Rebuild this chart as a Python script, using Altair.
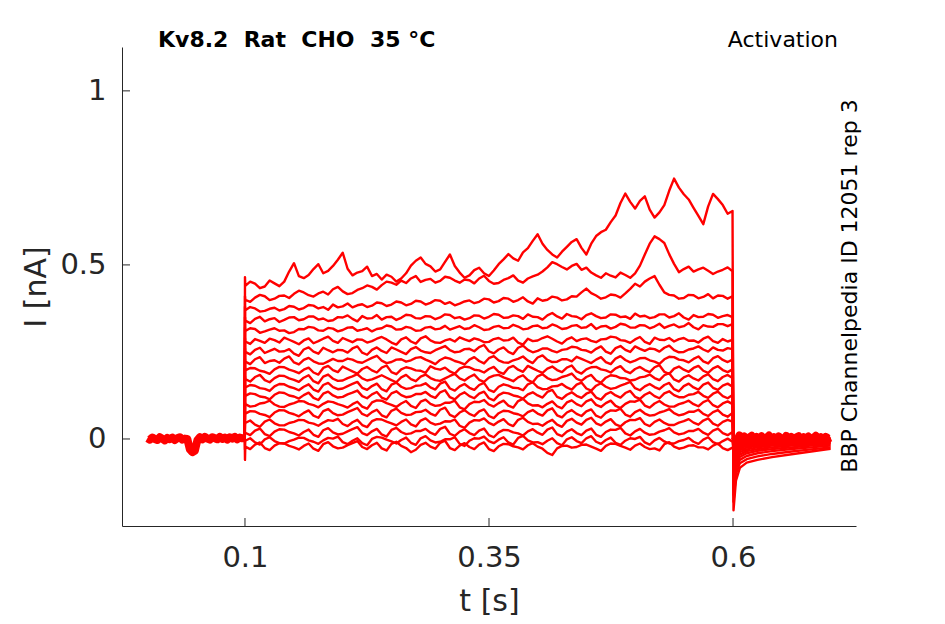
import altair as alt
import pandas as pd
import numpy as np

RED = "#ff0000"
INK = "#262626"
FONT = "DejaVu Sans"

# ---------------- time grids (s) ----------------
pre_t = np.linspace(0.0, 0.0998, 40)
pulse_t = np.linspace(0.1003, 0.5995, 101)
tail_t = [0.6005, 0.603, 0.607, 0.614, 0.625, 0.64, 0.66, 0.68, 0.70]
post_t = np.linspace(0.6015, 0.70, 40)

# ---------------- holding baseline before / after the step (nA) ----------------
pre_baseline = [0.002, -0.002, 0.004, 0.000, -0.003, 0.005, 0.001, -0.004, 0.003, -0.001,
                0.004, -0.003, 0.002, 0.005, -0.002, 0.001, 0.000, -0.030, -0.038, -0.034,
                -0.004, 0.005, -0.001, 0.006, 0.001, -0.002, 0.005, 0.002, -0.001, 0.006,
                0.000, 0.004, -0.002, 0.005, 0.001, 0.006, -0.001, 0.004, 0.002, 0.003]
post_baseline = [0.008, -0.006, 0.010, -0.003, 0.007, -0.008, 0.004, 0.009, -0.005, 0.006,
                 -0.002, 0.008, -0.006, 0.003, 0.010, -0.004, 0.005, -0.007, 0.007, 0.001,
                 -0.005, 0.009, -0.003, 0.006, -0.006, 0.004, 0.008, -0.004, 0.005, -0.002,
                 0.007, -0.006, 0.003, 0.009, -0.003, 0.005, -0.005, 0.006, 0.001, 0.004]

# capacitive value at step onset (t = 0.1 s), one per sweep
step_onset = [0.465, 0.41, 0.38, 0.35, 0.32, 0.29, 0.26, 0.23, 0.205,
              0.18, 0.155, 0.13, 0.105, 0.08, 0.05, 0.02, -0.03, -0.06]

# ---------------- current during the step, one list per sweep (nA) ----------------
trace_01 = [0.440, 0.452, 0.446, 0.433, 0.438, 0.455, 0.447, 0.439, 0.452, 0.481, 0.505, 0.468, 0.462, 0.471, 0.488, 0.502, 0.476, 0.483, 0.497, 0.515,
            0.535, 0.489, 0.470, 0.478, 0.482, 0.495, 0.468, 0.474, 0.458, 0.472, 0.466, 0.452, 0.461, 0.476, 0.498, 0.512, 0.521, 0.503, 0.496, 0.481,
            0.487, 0.509, 0.530, 0.497, 0.478, 0.463, 0.470, 0.485, 0.492, 0.476, 0.468, 0.484, 0.502, 0.516, 0.531, 0.519, 0.512, 0.536, 0.548, 0.569,
            0.588, 0.561, 0.543, 0.530, 0.521, 0.538, 0.552, 0.566, 0.574, 0.549, 0.530, 0.561, 0.583, 0.594, 0.601, 0.623, 0.642, 0.678, 0.705, 0.681,
            0.662, 0.684, 0.697, 0.659, 0.636, 0.651, 0.672, 0.713, 0.748, 0.722, 0.703, 0.688, 0.664, 0.641, 0.617, 0.668, 0.704, 0.689, 0.672, 0.647, 0.655]
trace_02 = [0.400, 0.394, 0.406, 0.414, 0.410, 0.399, 0.403, 0.411, 0.412, 0.405, 0.417, 0.426, 0.421, 0.413, 0.409, 0.418, 0.423, 0.415, 0.430, 0.437,
            0.424, 0.416, 0.419, 0.428, 0.433, 0.441, 0.437, 0.429, 0.442, 0.452, 0.449, 0.443, 0.455, 0.448, 0.461, 0.468, 0.451, 0.457, 0.460, 0.449,
            0.454, 0.466, 0.463, 0.455, 0.449, 0.458, 0.456, 0.447, 0.461, 0.469, 0.454, 0.446, 0.448, 0.457, 0.462, 0.470, 0.455, 0.449, 0.461, 0.467,
            0.472, 0.481, 0.493, 0.508, 0.502, 0.494, 0.487, 0.497, 0.503, 0.486, 0.492, 0.478, 0.470, 0.463, 0.476, 0.469, 0.464, 0.478, 0.471, 0.463,
            0.476, 0.498, 0.530, 0.561, 0.582, 0.574, 0.563, 0.531, 0.503, 0.479, 0.488, 0.495, 0.481, 0.487, 0.492, 0.483, 0.474, 0.481, 0.486, 0.493, 0.482]
trace_03 = [0.370, 0.379, 0.375, 0.366, 0.368, 0.374, 0.377, 0.369, 0.373, 0.382, 0.380, 0.372, 0.376, 0.385, 0.383, 0.375, 0.379, 0.371, 0.386, 0.378,
            0.381, 0.389, 0.378, 0.384, 0.387, 0.379, 0.383, 0.392, 0.390, 0.382, 0.386, 0.395, 0.392, 0.384, 0.388, 0.397, 0.395, 0.386, 0.391, 0.399,
            0.397, 0.388, 0.393, 0.384, 0.389, 0.395, 0.398, 0.390, 0.394, 0.403, 0.401, 0.392, 0.396, 0.405, 0.403, 0.394, 0.399, 0.407, 0.395, 0.389,
            0.404, 0.397, 0.400, 0.409, 0.406, 0.398, 0.401, 0.410, 0.409, 0.421, 0.432, 0.419, 0.412, 0.403, 0.407, 0.415, 0.413, 0.406, 0.418, 0.431,
            0.446, 0.438, 0.452, 0.461, 0.468, 0.443, 0.421, 0.414, 0.412, 0.403, 0.405, 0.414, 0.413, 0.404, 0.408, 0.416, 0.404, 0.412, 0.411, 0.403, 0.410]
trace_04 = [0.340, 0.333, 0.345, 0.351, 0.338, 0.344, 0.347, 0.336, 0.342, 0.349, 0.350, 0.341, 0.344, 0.352, 0.352, 0.343, 0.346, 0.339, 0.341, 0.350,
            0.349, 0.355, 0.345, 0.338, 0.353, 0.346, 0.347, 0.356, 0.343, 0.350, 0.351, 0.342, 0.348, 0.357, 0.355, 0.347, 0.346, 0.353, 0.352, 0.344,
            0.349, 0.358, 0.356, 0.347, 0.350, 0.343, 0.347, 0.355, 0.354, 0.346, 0.351, 0.359, 0.357, 0.348, 0.349, 0.355, 0.353, 0.345, 0.358, 0.351,
            0.350, 0.343, 0.355, 0.362, 0.352, 0.346, 0.359, 0.353, 0.351, 0.344, 0.356, 0.361, 0.353, 0.347, 0.349, 0.358, 0.357, 0.350, 0.352, 0.345,
            0.360, 0.352, 0.354, 0.347, 0.350, 0.358, 0.358, 0.349, 0.353, 0.361, 0.349, 0.343, 0.356, 0.350, 0.351, 0.359, 0.357, 0.348, 0.353, 0.356, 0.350]
trace_05 = [0.310, 0.318, 0.316, 0.305, 0.309, 0.314, 0.318, 0.311, 0.312, 0.304, 0.307, 0.316, 0.315, 0.322, 0.320, 0.312, 0.311, 0.319, 0.317, 0.309,
            0.313, 0.320, 0.321, 0.311, 0.314, 0.318, 0.309, 0.316, 0.318, 0.326, 0.323, 0.314, 0.315, 0.322, 0.319, 0.311, 0.312, 0.320, 0.322, 0.315,
            0.317, 0.325, 0.314, 0.319, 0.324, 0.316, 0.318, 0.327, 0.321, 0.313, 0.315, 0.322, 0.325, 0.318, 0.319, 0.328, 0.323, 0.315, 0.317, 0.324,
            0.326, 0.318, 0.320, 0.329, 0.324, 0.316, 0.318, 0.325, 0.327, 0.319, 0.321, 0.330, 0.316, 0.323, 0.325, 0.317, 0.322, 0.331, 0.328, 0.320,
            0.320, 0.327, 0.326, 0.318, 0.323, 0.331, 0.319, 0.325, 0.329, 0.321, 0.324, 0.333, 0.321, 0.315, 0.327, 0.323, 0.322, 0.330, 0.330, 0.324, 0.330]
trace_06 = [0.280, 0.273, 0.287, 0.282, 0.276, 0.288, 0.284, 0.277, 0.291, 0.285, 0.279, 0.272, 0.283, 0.289, 0.275, 0.281, 0.288, 0.294, 0.282, 0.276,
            0.290, 0.284, 0.278, 0.286, 0.285, 0.277, 0.281, 0.288, 0.293, 0.286, 0.277, 0.271, 0.286, 0.292, 0.280, 0.274, 0.289, 0.295, 0.283, 0.277,
            0.276, 0.283, 0.287, 0.280, 0.292, 0.286, 0.281, 0.289, 0.285, 0.278, 0.279, 0.287, 0.290, 0.283, 0.284, 0.291, 0.277, 0.271, 0.288, 0.281,
            0.283, 0.290, 0.295, 0.288, 0.280, 0.274, 0.286, 0.292, 0.281, 0.287, 0.289, 0.282, 0.278, 0.286, 0.287, 0.294, 0.292, 0.284, 0.282, 0.276,
            0.286, 0.293, 0.279, 0.273, 0.291, 0.285, 0.284, 0.290, 0.280, 0.287, 0.290, 0.282, 0.283, 0.277, 0.288, 0.294, 0.281, 0.276, 0.287, 0.280, 0.285]
trace_07 = [0.250, 0.243, 0.256, 0.262, 0.247, 0.253, 0.259, 0.251, 0.252, 0.258, 0.245, 0.239, 0.257, 0.263, 0.251, 0.245, 0.262, 0.255, 0.249, 0.256,
            0.255, 0.248, 0.260, 0.266, 0.248, 0.242, 0.256, 0.263, 0.253, 0.247, 0.263, 0.257, 0.250, 0.244, 0.258, 0.264, 0.254, 0.249, 0.247, 0.255,
            0.261, 0.267, 0.255, 0.249, 0.251, 0.258, 0.259, 0.252, 0.264, 0.270, 0.252, 0.246, 0.257, 0.263, 0.250, 0.244, 0.262, 0.268, 0.256, 0.249,
            0.253, 0.260, 0.260, 0.253, 0.249, 0.256, 0.258, 0.265, 0.263, 0.256, 0.254, 0.248, 0.259, 0.266, 0.251, 0.245, 0.261, 0.267, 0.256, 0.250,
            0.266, 0.259, 0.253, 0.260, 0.258, 0.251, 0.262, 0.268, 0.255, 0.249, 0.250, 0.257, 0.260, 0.266, 0.257, 0.251, 0.263, 0.256, 0.254, 0.261, 0.258]
trace_08 = [0.222, 0.215, 0.229, 0.235, 0.218, 0.224, 0.226, 0.219, 0.231, 0.237, 0.220, 0.214, 0.227, 0.233, 0.223, 0.217, 0.216, 0.223, 0.230, 0.224,
            0.224, 0.231, 0.228, 0.221, 0.219, 0.226, 0.233, 0.239, 0.225, 0.218, 0.221, 0.228, 0.229, 0.222, 0.226, 0.233, 0.235, 0.228, 0.222, 0.215,
            0.227, 0.234, 0.231, 0.224, 0.220, 0.214, 0.228, 0.235, 0.224, 0.217, 0.232, 0.238, 0.226, 0.220, 0.219, 0.226, 0.230, 0.237, 0.225, 0.218,
            0.234, 0.240, 0.227, 0.221, 0.222, 0.229, 0.229, 0.223, 0.236, 0.230, 0.224, 0.218, 0.228, 0.235, 0.221, 0.215, 0.231, 0.238, 0.227, 0.220,
            0.225, 0.232, 0.233, 0.226, 0.222, 0.216, 0.229, 0.236, 0.235, 0.228, 0.226, 0.220, 0.230, 0.237, 0.223, 0.217, 0.232, 0.238, 0.227, 0.221, 0.228]
trace_09 = [0.197, 0.204, 0.203, 0.196, 0.193, 0.187, 0.200, 0.207, 0.206, 0.199, 0.195, 0.189, 0.199, 0.205, 0.191, 0.185, 0.204, 0.210, 0.198, 0.192,
            0.208, 0.201, 0.194, 0.188, 0.201, 0.207, 0.197, 0.191, 0.205, 0.211, 0.192, 0.186, 0.200, 0.206, 0.203, 0.197, 0.196, 0.190, 0.209, 0.202,
            0.199, 0.205, 0.194, 0.188, 0.202, 0.208, 0.206, 0.199, 0.197, 0.191, 0.201, 0.207, 0.193, 0.187, 0.204, 0.210, 0.199, 0.193, 0.210, 0.203,
            0.196, 0.190, 0.202, 0.208, 0.198, 0.192, 0.205, 0.211, 0.194, 0.188, 0.200, 0.206, 0.207, 0.200, 0.197, 0.191, 0.203, 0.209, 0.195, 0.189,
            0.201, 0.207, 0.198, 0.192, 0.206, 0.212, 0.193, 0.187, 0.202, 0.208, 0.199, 0.193, 0.204, 0.210, 0.196, 0.190, 0.203, 0.209, 0.198, 0.192, 0.200]
trace_10 = [0.172, 0.165, 0.178, 0.184, 0.169, 0.163, 0.175, 0.182, 0.181, 0.174, 0.170, 0.164, 0.176, 0.183, 0.166, 0.160, 0.179, 0.185, 0.173, 0.167,
            0.168, 0.175, 0.180, 0.186, 0.174, 0.168, 0.171, 0.177, 0.183, 0.176, 0.169, 0.163, 0.177, 0.184, 0.172, 0.166, 0.179, 0.185, 0.175, 0.169,
            0.167, 0.174, 0.181, 0.187, 0.174, 0.168, 0.178, 0.185, 0.170, 0.164, 0.176, 0.182, 0.184, 0.177, 0.172, 0.166, 0.177, 0.183, 0.169, 0.163,
            0.180, 0.186, 0.175, 0.169, 0.171, 0.178, 0.182, 0.188, 0.173, 0.167, 0.178, 0.184, 0.168, 0.162, 0.176, 0.183, 0.181, 0.175, 0.174, 0.168,
            0.170, 0.177, 0.179, 0.185, 0.175, 0.169, 0.183, 0.189, 0.171, 0.165, 0.177, 0.183, 0.174, 0.168, 0.180, 0.186, 0.172, 0.166, 0.178, 0.184, 0.175]
trace_11 = [0.148, 0.155, 0.153, 0.146, 0.144, 0.138, 0.151, 0.158, 0.157, 0.150, 0.146, 0.140, 0.150, 0.157, 0.142, 0.136, 0.155, 0.161, 0.149, 0.143,
            0.145, 0.152, 0.158, 0.164, 0.147, 0.141, 0.152, 0.159, 0.143, 0.137, 0.156, 0.162, 0.150, 0.144, 0.146, 0.153, 0.154, 0.160, 0.148, 0.142,
            0.159, 0.165, 0.145, 0.139, 0.151, 0.158, 0.147, 0.141, 0.155, 0.161, 0.141, 0.135, 0.150, 0.157, 0.153, 0.147, 0.146, 0.140, 0.157, 0.163,
            0.149, 0.143, 0.144, 0.151, 0.152, 0.158, 0.148, 0.142, 0.156, 0.162, 0.145, 0.139, 0.153, 0.160, 0.150, 0.144, 0.147, 0.153, 0.158, 0.164,
            0.146, 0.140, 0.151, 0.158, 0.149, 0.143, 0.155, 0.161, 0.143, 0.137, 0.152, 0.159, 0.148, 0.142, 0.156, 0.162, 0.147, 0.141, 0.153, 0.159, 0.150]
trace_12 = [0.124, 0.131, 0.129, 0.122, 0.120, 0.114, 0.127, 0.134, 0.132, 0.125, 0.122, 0.116, 0.126, 0.133, 0.118, 0.112, 0.130, 0.136, 0.125, 0.119,
            0.121, 0.128, 0.133, 0.139, 0.123, 0.117, 0.128, 0.135, 0.119, 0.113, 0.131, 0.137, 0.126, 0.120, 0.122, 0.129, 0.129, 0.135, 0.124, 0.118,
            0.134, 0.140, 0.120, 0.114, 0.127, 0.134, 0.123, 0.117, 0.130, 0.136, 0.117, 0.111, 0.126, 0.133, 0.131, 0.125, 0.122, 0.116, 0.128, 0.134,
            0.125, 0.119, 0.135, 0.141, 0.121, 0.115, 0.127, 0.134, 0.124, 0.118, 0.130, 0.136, 0.119, 0.113, 0.128, 0.135, 0.125, 0.119, 0.132, 0.138,
            0.121, 0.115, 0.127, 0.134, 0.123, 0.117, 0.131, 0.137, 0.126, 0.120, 0.120, 0.127, 0.129, 0.135, 0.124, 0.118, 0.130, 0.136, 0.123, 0.117, 0.126]
trace_13 = [0.100, 0.093, 0.095, 0.102, 0.104, 0.110, 0.099, 0.093, 0.092, 0.099, 0.103, 0.109, 0.108, 0.101, 0.097, 0.091, 0.101, 0.108, 0.106, 0.100,
            0.096, 0.090, 0.100, 0.107, 0.093, 0.087, 0.105, 0.111, 0.110, 0.103, 0.098, 0.092, 0.102, 0.109, 0.095, 0.089, 0.107, 0.113, 0.101, 0.095,
            0.097, 0.104, 0.104, 0.110, 0.091, 0.085, 0.100, 0.107, 0.106, 0.112, 0.099, 0.093, 0.103, 0.110, 0.096, 0.090, 0.109, 0.115, 0.102, 0.096,
            0.097, 0.091, 0.101, 0.108, 0.094, 0.088, 0.105, 0.111, 0.100, 0.094, 0.108, 0.114, 0.098, 0.092, 0.103, 0.110, 0.095, 0.089, 0.101, 0.108,
            0.107, 0.113, 0.096, 0.090, 0.102, 0.109, 0.099, 0.093, 0.093, 0.100, 0.104, 0.110, 0.100, 0.094, 0.106, 0.112, 0.097, 0.091, 0.102, 0.108, 0.100]
trace_14 = [0.073, 0.080, 0.079, 0.072, 0.069, 0.063, 0.076, 0.083, 0.082, 0.075, 0.071, 0.065, 0.075, 0.082, 0.067, 0.061, 0.080, 0.086, 0.074, 0.068,
            0.070, 0.077, 0.083, 0.089, 0.072, 0.066, 0.077, 0.084, 0.068, 0.062, 0.081, 0.087, 0.075, 0.069, 0.070, 0.077, 0.078, 0.084, 0.073, 0.067,
            0.084, 0.090, 0.069, 0.063, 0.076, 0.083, 0.072, 0.066, 0.079, 0.085, 0.066, 0.060, 0.074, 0.081, 0.080, 0.074, 0.071, 0.065, 0.077, 0.083,
            0.073, 0.067, 0.082, 0.088, 0.068, 0.062, 0.076, 0.083, 0.072, 0.066, 0.079, 0.085, 0.067, 0.061, 0.075, 0.082, 0.081, 0.087, 0.070, 0.064,
            0.077, 0.084, 0.073, 0.067, 0.069, 0.076, 0.080, 0.086, 0.074, 0.068, 0.071, 0.078, 0.078, 0.084, 0.072, 0.066, 0.077, 0.083, 0.070, 0.064, 0.075]
trace_15 = [0.046, 0.053, 0.041, 0.035, 0.050, 0.056, 0.045, 0.039, 0.039, 0.046, 0.049, 0.055, 0.054, 0.047, 0.044, 0.038, 0.047, 0.054, 0.052, 0.058,
            0.043, 0.037, 0.048, 0.055, 0.040, 0.034, 0.051, 0.057, 0.056, 0.050, 0.045, 0.039, 0.049, 0.056, 0.042, 0.036, 0.053, 0.059, 0.047, 0.041,
            0.044, 0.051, 0.050, 0.056, 0.038, 0.032, 0.047, 0.054, 0.053, 0.059, 0.046, 0.040, 0.050, 0.057, 0.043, 0.037, 0.055, 0.061, 0.049, 0.043,
            0.044, 0.038, 0.048, 0.055, 0.041, 0.035, 0.052, 0.058, 0.047, 0.041, 0.055, 0.061, 0.045, 0.039, 0.050, 0.057, 0.042, 0.036, 0.048, 0.055,
            0.054, 0.060, 0.043, 0.037, 0.049, 0.056, 0.046, 0.040, 0.040, 0.047, 0.051, 0.057, 0.047, 0.041, 0.053, 0.059, 0.044, 0.038, 0.049, 0.055, 0.050]
trace_16 = [0.018, 0.011, 0.024, 0.030, 0.014, 0.008, 0.021, 0.028, 0.027, 0.020, 0.016, 0.010, 0.020, 0.027, 0.012, 0.006, 0.025, 0.031, 0.019, 0.013,
            0.015, 0.022, 0.028, 0.034, 0.017, 0.011, 0.022, 0.029, 0.013, 0.007, 0.026, 0.032, 0.020, 0.014, 0.016, 0.023, 0.023, 0.029, 0.018, 0.012,
            0.029, 0.035, 0.015, 0.009, 0.021, 0.028, 0.017, 0.011, 0.024, 0.030, 0.011, 0.005, 0.019, 0.026, 0.025, 0.019, 0.016, 0.010, 0.022, 0.028,
            0.018, 0.012, 0.027, 0.033, 0.014, 0.008, 0.021, 0.028, 0.017, 0.011, 0.024, 0.030, 0.012, 0.006, 0.020, 0.027, 0.026, 0.032, 0.016, 0.010,
            0.022, 0.029, 0.018, 0.012, 0.014, 0.021, 0.025, 0.031, 0.019, 0.013, 0.016, 0.023, 0.023, 0.029, 0.018, 0.012, 0.024, 0.030, 0.017, 0.011, 0.020]
trace_17 = [-0.005, 0.002, -0.010, -0.016, -0.001, 0.005, -0.006, -0.012, -0.013, -0.006, -0.002, 0.004, 0.003, -0.004, -0.008, -0.014, -0.004, 0.003, 0.001, 0.007,
            -0.009, -0.015, -0.005, 0.002, -0.012, -0.018, 0.000, 0.006, 0.004, -0.002, -0.007, -0.013, -0.003, 0.004, -0.011, -0.017, 0.002, 0.008, -0.004, -0.010,
            -0.008, -0.001, -0.001, 0.005, -0.014, -0.020, -0.005, 0.002, 0.001, 0.007, -0.006, -0.012, -0.002, 0.005, -0.010, -0.016, 0.003, 0.009, -0.004, -0.010,
            -0.009, -0.015, -0.005, 0.002, -0.012, -0.018, -0.001, 0.005, -0.006, -0.012, 0.002, 0.008, -0.008, -0.014, -0.003, 0.004, -0.011, -0.017, -0.005, 0.002,
            0.000, 0.006, -0.010, -0.016, -0.004, 0.003, -0.007, -0.013, -0.013, -0.006, -0.003, 0.003, -0.008, -0.014, -0.002, 0.005, -0.009, -0.015, -0.006, 0.001, -0.008]
trace_18 = [-0.022, -0.029, -0.016, -0.010, -0.026, -0.032, -0.019, -0.012, -0.013, -0.020, -0.024, -0.030, -0.020, -0.013, -0.028, -0.034, -0.015, -0.009, -0.021, -0.027,
            -0.025, -0.018, -0.012, -0.006, -0.023, -0.029, -0.018, -0.011, -0.027, -0.033, -0.014, -0.008, -0.020, -0.026, -0.038, -0.031, -0.017, -0.011, -0.022, -0.028,
            -0.011, -0.005, -0.026, -0.032, -0.019, -0.012, -0.023, -0.029, -0.016, -0.010, -0.029, -0.035, -0.021, -0.014, -0.015, -0.021, -0.024, -0.030, -0.018, -0.012,
            -0.022, -0.028, -0.040, -0.046, -0.027, -0.020, -0.019, -0.025, -0.023, -0.017, -0.016, -0.022, -0.028, -0.034, -0.020, -0.013, -0.014, -0.020, -0.025, -0.031,
            -0.019, -0.013, -0.023, -0.029, -0.027, -0.033, -0.015, -0.009, -0.022, -0.028, -0.025, -0.019, -0.018, -0.024, -0.024, -0.030, -0.019, -0.013, -0.026, -0.032, -0.025]

# ---------------- tail current after the step (nA), one list per sweep ----------------
tail_01 = [-0.205, -0.120, -0.083, -0.068, -0.060, -0.052, -0.044, -0.036, -0.028]
tail_02 = [-0.180, -0.100, -0.070, -0.058, -0.050, -0.043, -0.036, -0.030, -0.024]
tail_03 = [-0.160, -0.085, -0.060, -0.049, -0.041, -0.035, -0.029, -0.024, -0.019]
tail_04 = [-0.145, -0.074, -0.052, -0.041, -0.034, -0.029, -0.024, -0.019, -0.015]
tail_05 = [-0.130, -0.064, -0.045, -0.035, -0.029, -0.024, -0.019, -0.016, -0.012]
tail_06 = [-0.118, -0.055, -0.038, -0.030, -0.024, -0.019, -0.016, -0.013, -0.010]
tail_07 = [-0.105, -0.047, -0.032, -0.025, -0.020, -0.016, -0.013, -0.010, -0.008]
tail_08 = [-0.095, -0.040, -0.027, -0.020, -0.016, -0.013, -0.010, -0.008, -0.006]
tail_09 = [-0.085, -0.034, -0.022, -0.016, -0.013, -0.010, -0.008, -0.006, -0.005]
tail_10 = [-0.076, -0.029, -0.018, -0.013, -0.010, -0.008, -0.006, -0.005, -0.004]
tail_11 = [-0.068, -0.024, -0.015, -0.010, -0.008, -0.006, -0.005, -0.004, -0.003]
tail_12 = [-0.060, -0.020, -0.012, -0.008, -0.006, -0.005, -0.004, -0.003, -0.002]
tail_13 = [-0.053, -0.016, -0.009, -0.006, -0.004, -0.003, -0.003, -0.002, -0.001]
tail_14 = [-0.047, -0.013, -0.007, -0.004, -0.003, -0.002, -0.002, -0.001, -0.001]
tail_15 = [-0.041, -0.010, -0.005, -0.003, -0.002, -0.001, -0.001, -0.001, 0.000]
tail_16 = [-0.036, -0.008, -0.004, -0.002, -0.001, -0.001, 0.000, 0.000, 0.000]
tail_17 = [-0.031, -0.006, -0.003, -0.001, 0.000, 0.000, 0.000, 0.000, 0.000]
tail_18 = [-0.027, -0.004, -0.002, 0.000, 0.000, 0.000, 0.000, 0.000, 0.000]

x_ticks = [0.1, 0.35, 0.6]
y_ticks = [0, 0.5, 1]

traces = [trace_01, trace_02, trace_03, trace_04, trace_05, trace_06, trace_07, trace_08, trace_09,
          trace_10, trace_11, trace_12, trace_13, trace_14, trace_15, trace_16, trace_17, trace_18]
tails = [tail_01, tail_02, tail_03, tail_04, tail_05, tail_06, tail_07, tail_08, tail_09,
         tail_10, tail_11, tail_12, tail_13, tail_14, tail_15, tail_16, tail_17, tail_18]

rows = []
for i, (pul, tl, s) in enumerate(zip(traces, tails, step_onset)):
    assert len(pul) == 101 and len(tl) == 9, (i, len(pul))
    seq_t = [0.0998, 0.1] + list(pulse_t) + tail_t
    seq_v = [0.0, s] + pul + tl
    for j, (t, v) in enumerate(zip(seq_t, seq_v)):
        rows.append({"t": float(t), "I": v, "sweep": i, "ord": j})
sweeps = pd.DataFrame(rows)

assert len(pre_baseline) == 40 and len(post_baseline) == 40
pre_df = pd.DataFrame({"t": pre_t, "I": pre_baseline, "ord": range(40)})
post_df = pd.DataFrame({"t": post_t, "I": post_baseline, "ord": range(40)})

W, H = 734, 479

X = alt.X("t:Q",
          scale=alt.Scale(domain=[-0.026, 0.726], nice=False, zero=False),
          axis=alt.Axis(values=x_ticks, format=".2~f", title="t [s]", labelPadding=17,
                        titlePadding=14))
Y = alt.Y("I:Q",
          scale=alt.Scale(domain=[-0.25, 1.126], nice=False, zero=False),
          axis=alt.Axis(values=y_ticks, format=".2~f", title="I [nA]", labelPadding=16,
                        titlePadding=8))

pre_layer = alt.Chart(pre_df).mark_line(color=RED, strokeWidth=8, strokeJoin="round").encode(
    x=X, y=Y, order="ord:Q")
post_layer = alt.Chart(post_df).mark_line(color=RED, strokeWidth=8, strokeJoin="round").encode(
    x=X, y=Y, order="ord:Q")
sweep_layer = alt.Chart(sweeps).mark_line(color=RED, strokeWidth=2.4, strokeJoin="round").encode(
    x=X, y=Y, detail="sweep:N", order="ord:Q")

yt = alt.Chart(pd.DataFrame({"I": y_ticks})).mark_rule(color=INK, strokeWidth=1).encode(
    y=Y, x=alt.value(0), x2=alt.value(8))
xt = alt.Chart(pd.DataFrame({"t": x_ticks})).mark_rule(color=INK, strokeWidth=1).encode(
    x=X, y=alt.value(H), y2=alt.value(H - 8))

one = pd.DataFrame({"a": [0]})
title_txt = alt.Chart(one).mark_text(
    text="Kv8.2\u00a0\u00a0Rat\u00a0\u00a0CHO\u00a0\u00a035 °C", font=FONT, fontSize=22,
    fontWeight="bold", color="black", align="left", baseline="middle").encode(
    x=alt.value(36), y=alt.value(-7))
act_txt = alt.Chart(one).mark_text(
    text="Activation", font=FONT, fontSize=22, color="black", align="right",
    baseline="middle").encode(x=alt.value(716), y=alt.value(-7))
side_txt = alt.Chart(one).mark_text(
    text="BBP Channelpedia ID 12051 rep 3", font=FONT, fontSize=22, color="black",
    align="center", baseline="middle", angle=270).encode(x=alt.value(728), y=alt.value(239))

chart = alt.layer(pre_layer, post_layer, sweep_layer, yt, xt, title_txt, act_txt, side_txt).properties(
    width=W, height=H,
    padding={"left": 114, "top": 39, "right": 70, "bottom": 90},
    autosize=alt.AutoSizeParams(type="none"),
).configure_view(stroke=None).configure_axis(
    domainColor=INK, domainWidth=1, ticks=False, grid=False,
    labelFont=FONT, labelFontSize=29, labelColor=INK,
    titleFont=FONT, titleFontSize=30, titleFontWeight="normal", titleColor=INK,
)

chart.save("out.html", embed_options={"renderer": "svg", "actions": False})
